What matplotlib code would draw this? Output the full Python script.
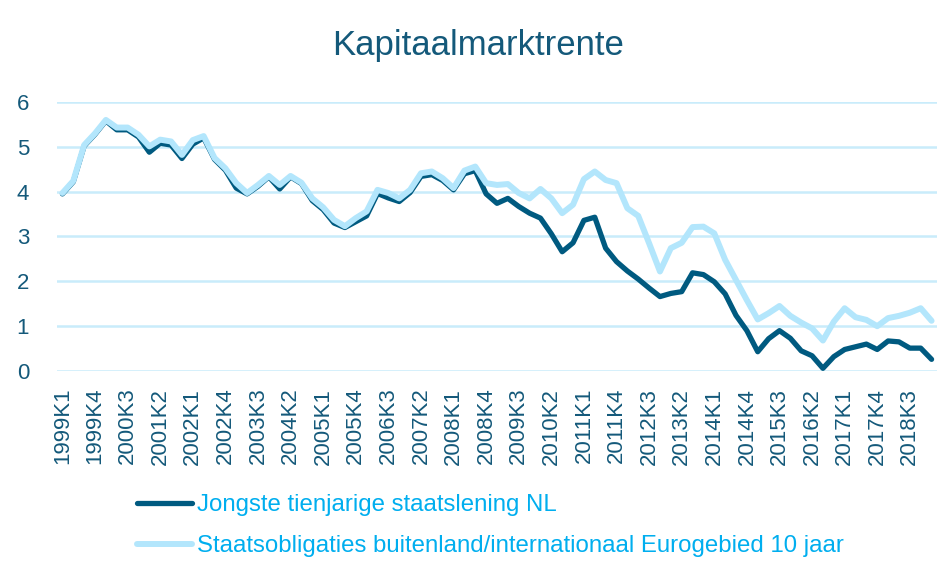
import matplotlib

matplotlib.use("Agg")
import matplotlib.pyplot as plt

plt.rcParams["font.family"] = ["Liberation Sans", "DejaVu Sans"]

TITLE = "Kapitaalmarktrente"
NL_LABEL = "Jongste tienjarige staatslening NL"
EURO_LABEL = "Staatsobligaties buitenland/internationaal Eurogebied 10 jaar"

# quarters 1999K1 .. 2019K1
quarters = [f"{y}K{q}" for y in range(1999, 2020) for q in range(1, 5)][:81]

nl_yield = [
    3.95, 4.22, 5.02, 5.28, 5.58, 5.38, 5.38, 5.22, 4.88, 5.08,
    5.04, 4.74, 5.06, 5.20, 4.72, 4.48, 4.08, 3.95, 4.12, 4.33,
    4.06, 4.33, 4.18, 3.80, 3.60, 3.30, 3.20, 3.33, 3.46, 3.96,
    3.86, 3.78, 3.98, 4.34, 4.38, 4.25, 4.04, 4.40, 4.47, 3.95,
    3.74, 3.85, 3.67, 3.52, 3.41, 3.06, 2.66, 2.86, 3.36, 3.43,
    2.74, 2.44, 2.23, 2.05, 1.85, 1.66, 1.73, 1.77, 2.19, 2.15,
    1.99, 1.72, 1.24, 0.90, 0.43, 0.72, 0.90, 0.73, 0.45, 0.34,
    0.06, 0.32, 0.48, 0.54, 0.60, 0.48, 0.67, 0.65, 0.51, 0.51,
    0.26,
]

euro_yield = [
    3.97, 4.24, 5.04, 5.30, 5.60, 5.43, 5.43, 5.27, 5.01, 5.16,
    5.12, 4.82, 5.15, 5.24, 4.75, 4.52, 4.19, 3.97, 4.15, 4.35,
    4.15, 4.35, 4.20, 3.85, 3.65, 3.37, 3.23, 3.41, 3.56, 4.04,
    3.97, 3.85, 4.04, 4.41, 4.45, 4.30, 4.08, 4.47, 4.56, 4.19,
    4.15, 4.17, 3.97, 3.85, 4.06, 3.85, 3.52, 3.71, 4.28, 4.45,
    4.26, 4.19, 3.63, 3.46, 2.85, 2.22, 2.74, 2.86, 3.21, 3.22,
    3.07, 2.48, 2.03, 1.58, 1.15, 1.29, 1.45, 1.23, 1.08, 0.95,
    0.68, 1.10, 1.40, 1.20, 1.14, 1.00, 1.18, 1.23, 1.30, 1.40,
    1.12,
]

DARK = "#005a80"
LIGHT = "#b3e6fc"
GRID = "#c9ecfb"
TEXT = "#14597a"

fig = plt.figure(figsize=(9.53, 5.76), dpi=100)
ax = fig.add_axes([57 / 953, 1 - 371 / 576, 880 / 953, 269 / 576])

x_values = list(range(len(quarters)))
(nl_line,) = ax.plot(x_values, nl_yield, color=DARK, linewidth=3.8,
                     solid_joinstyle="round", solid_capstyle="round", zorder=3)
(eu_line,) = ax.plot(x_values, euro_yield, color=LIGHT, linewidth=4.3,
                     solid_joinstyle="round", solid_capstyle="round", zorder=4)

ax.set_xlim(-0.5, len(quarters) - 0.5)
ax.set_ylim(0, 6)
ax.set_yticks(range(0, 7))
ax.set_xticks(x_values[::3])
ax.set_xticklabels(quarters[::3], rotation=90)
ax.tick_params(axis="both", length=0, labelcolor=TEXT, labelsize=16)
ax.tick_params(axis="x", pad=12)
ax.tick_params(axis="y", pad=20)
ax.grid(True, axis="y", color=GRID, linewidth=1.8)
ax.set_axisbelow(True)
for spine in ax.spines.values():
    spine.set_visible(False)

fig.text(478 / 953, 1 - 46 / 576, TITLE, ha="center", va="center",
         fontsize=25, color=TEXT)

fig.legend(
    [nl_line, eu_line],
    [NL_LABEL, EURO_LABEL],
    loc="upper left",
    bbox_to_anchor=(137 / 953, 1 - 494 / 576),
    frameon=False,
    fontsize=17.3,
    labelcolor="#00aeef",
    handlelength=2.3,
    handletextpad=0.2,
    labelspacing=0.8,
    borderpad=0,
    borderaxespad=0,
)

fig.savefig("out.png", dpi=100)
